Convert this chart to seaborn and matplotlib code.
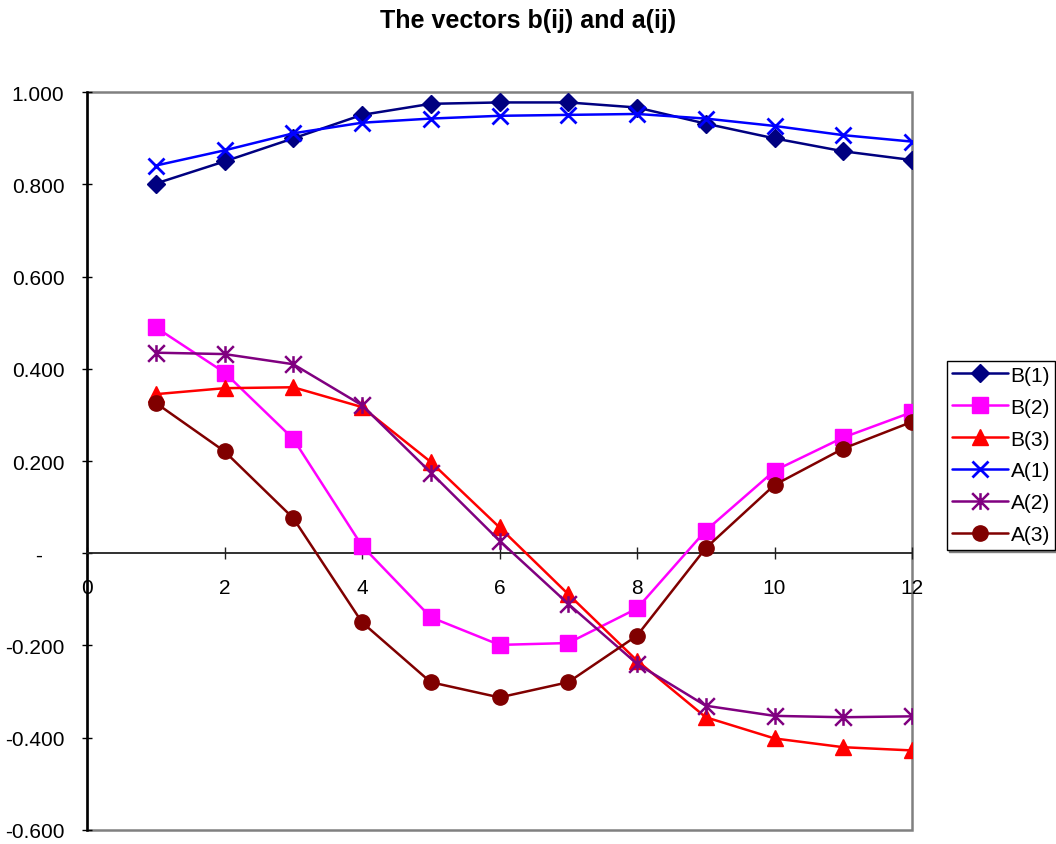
import matplotlib
matplotlib.use("Agg")
import matplotlib.pyplot as plt
from matplotlib.path import Path
from matplotlib.patches import Rectangle
from matplotlib.transforms import ScaledTranslation
import seaborn as sns

# ---- data ----
index = [1, 2, 3, 4, 5, 6, 7, 8, 9, 10, 11, 12]
b1 = [0.802, 0.850, 0.900, 0.951, 0.975, 0.978, 0.978, 0.967, 0.932, 0.900, 0.872, 0.853]
b2 = [0.490, 0.392, 0.248, 0.016, -0.139, -0.199, -0.195, -0.120, 0.049, 0.179, 0.251, 0.306]
b3 = [0.345, 0.358, 0.360, 0.317, 0.198, 0.056, -0.089, -0.233, -0.356, -0.402, -0.421, -0.428]
a1 = [0.841, 0.874, 0.911, 0.934, 0.943, 0.949, 0.951, 0.953, 0.943, 0.927, 0.907, 0.893]
a2 = [0.435, 0.432, 0.410, 0.321, 0.175, 0.027, -0.110, -0.240, -0.331, -0.353, -0.356, -0.354]
a3 = [0.326, 0.221, 0.076, -0.150, -0.280, -0.313, -0.280, -0.179, 0.011, 0.148, 0.227, 0.285]

series_names = ["B(1)", "B(2)", "B(3)", "A(1)", "A(2)", "A(3)"]
series_values = [b1, b2, b3, a1, a2, a3]

x_ticks = [0, 2, 4, 6, 8, 10, 12]
y_ticks = [-0.6, -0.4, -0.2, 0.0, 0.2, 0.4, 0.6, 0.8, 1.0]
y_tick_labels = ["-0.600", "-0.400", "-0.200", "-", "0.200", "0.400", "0.600", "0.800", "1.000"]
title = "The vectors b(ij) and a(ij)"

# ---- styling ----
sns.set_style("white")
plt.rcParams["font.family"] = ["Liberation Sans", "DejaVu Sans"]
plt.rcParams["text.color"] = "black"
plt.rcParams["xtick.color"] = "black"
plt.rcParams["ytick.color"] = "black"

# six-armed asterisk: vertical bar plus a cross
asterisk = Path(
    [(0, -1), (0, 1), (-1, -1), (1, 1), (-1, 1), (1, -1)],
    [Path.MOVETO, Path.LINETO, Path.MOVETO, Path.LINETO, Path.MOVETO, Path.LINETO],
)

styles = {
    "B(1)": dict(color="#000080", marker="D", ms=9.5, mew=1.0),
    "B(2)": dict(color="#FF00FF", marker="s", ms=11.0, mew=1.0),
    "B(3)": dict(color="#FF0000", marker="^", ms=12.0, mew=1.0),
    "A(1)": dict(color="#0000FF", marker="x", ms=11.0, mew=2.0),
    "A(2)": dict(color="#800080", marker=asterisk, ms=12.0, mew=1.8),
    "A(3)": dict(color="#800000", marker="o", ms=11.0, mew=1.0),
}

fig = plt.figure(figsize=(10.56, 8.45), dpi=100)
ax = fig.add_axes([87 / 1056, 1 - 830.7 / 845, (912 - 87) / 1056, (830.7 - 93.3) / 845])

for name, vals in zip(series_names, series_values):
    st = styles[name]
    sns.lineplot(
        x=index, y=vals, ax=ax, estimator=None, sort=False,
        color=st["color"], marker=st["marker"], markersize=st["ms"],
        markeredgecolor=st["color"], markerfacecolor=st["color"],
        markeredgewidth=st["mew"], linewidth=1.8, label=name,
    )

ax.set_xlim(0, 12)
ax.set_ylim(-0.6, 1.0)
ax.set_xlabel("")
ax.set_ylabel("")

# plot-area border in gray, value axis in black, category axis through zero
ax.add_patch(Rectangle((0, 0), 1, 1, transform=ax.transAxes, fill=False,
                       edgecolor="#808080", linewidth=1.8, clip_on=False, zorder=0.5))
for side in ("top", "right"):
    ax.spines[side].set_visible(False)
ax.spines["left"].set_color("black")
ax.spines["left"].set_linewidth(1.8)
ax.spines["left"].set_zorder(1.5)
ax.spines["bottom"].set_position(("data", 0))
ax.spines["bottom"].set_color("#202020")
ax.spines["bottom"].set_linewidth(1.3)
ax.spines["bottom"].set_zorder(1.5)

ax.set_xticks(x_ticks)
ax.set_yticks(y_ticks, labels=y_tick_labels)
ax.tick_params(axis="x", bottom=True, direction="inout", length=8.6, width=1.0,
               color="#202020", pad=13.5, labelsize=15, labelcolor="black")
ax.tick_params(axis="y", left=True, direction="inout", length=6.5, width=1.0,
               color="black", pad=13, labelsize=15, labelcolor="black")
ax.grid(False)

# the zero label sits further left, like an accounting-format dash
for lbl in ax.get_yticklabels():
    if lbl.get_text() == "-":
        lbl.set_transform(lbl.get_transform() + ScaledTranslation(-0.22, 0, fig.dpi_scale_trans))

fig.text(0.5, 1 - 28 / 845, title, ha="center", va="baseline",
         fontsize=18, fontweight="bold", color="black")

handles, labels = ax.get_legend_handles_labels()
leg = ax.legend(
    handles, labels, loc="center left",
    bbox_to_anchor=(947 / 1056, 1 - 456 / 845), bbox_transform=fig.transFigure,
    fontsize=15, handlelength=2.7, handletextpad=0.1, labelspacing=0.62,
    borderpad=0.25, borderaxespad=0, frameon=True, fancybox=False,
    shadow={"ox": 1.5, "oy": -1.5, "color": "#808080", "alpha": 1.0},
)
leg.get_frame().set_edgecolor("black")
leg.get_frame().set_linewidth(1.0)
leg.get_frame().set_facecolor("white")
for t in leg.get_texts():
    t.set_color("black")

fig.savefig("out.png", dpi=100, facecolor="white")
